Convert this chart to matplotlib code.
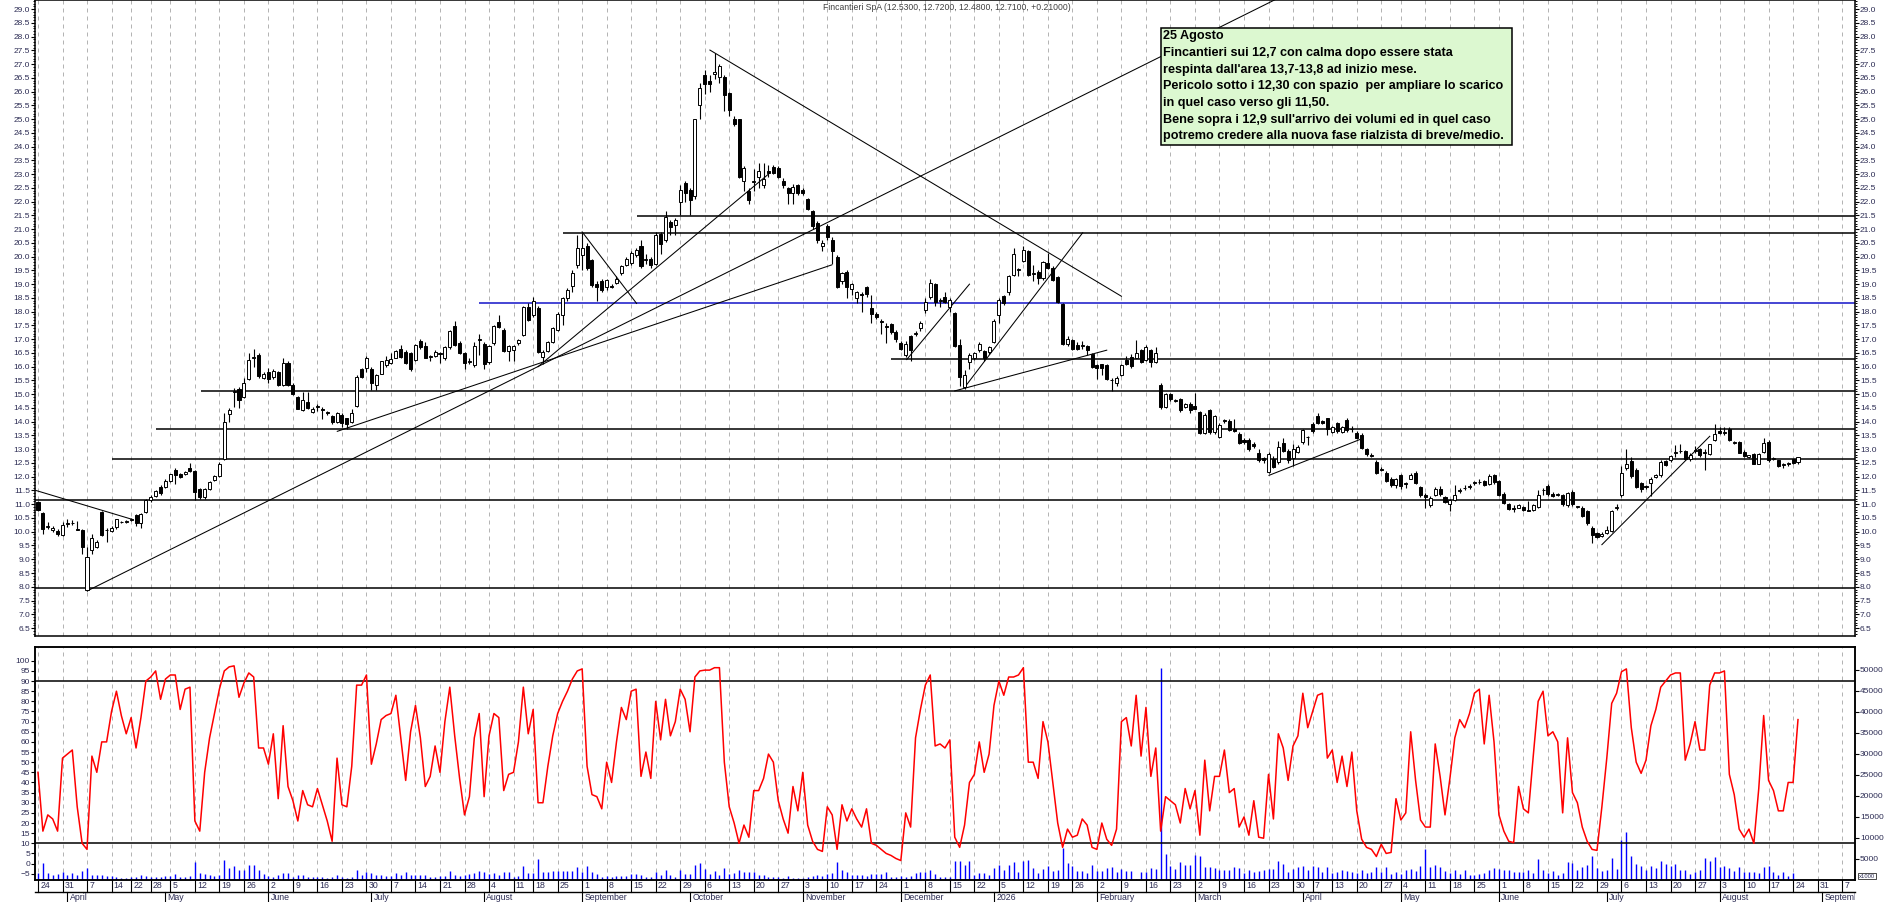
import matplotlib
matplotlib.use('Agg')
import matplotlib.pyplot as plt
from matplotlib.patches import Rectangle
from matplotlib.ticker import MultipleLocator, FixedLocator, FormatStrFormatter
import matplotlib.transforms as mtransforms
import numpy as np
import pandas as pd

plt.rcParams['font.family'] = ['Liberation Sans', 'DejaVu Sans']

W, H, DPI = 1890, 902, 100

# Borsa Italiana sessions
holidays = ['2025-04-18', '2025-04-21', '2025-05-01', '2025-08-15', '2025-12-24',
            '2025-12-25', '2025-12-26', '2025-12-31', '2026-01-01', '2026-04-03',
            '2026-04-06', '2026-05-01']
sessions = pd.bdate_range('2025-03-24', '2026-09-18')
sessions = sessions[~sessions.isin(pd.to_datetime(holidays))]

opens = [
    11.08, 10.68, 10.18, 10.06, 10.04, 9.87, 10.28, 10.31, 10.1, 10.05,
    7.9, 9.33, 9.45, 10.72, 10.05, 10.03, 10.18, 10.34, 10.36, 10.44,
    10.6, 10.32, 10.72, 11.15, 11.29, 11.63, 11.63, 11.85, 12.26, 12.09,
    12.1, 12.33, 12.2, 11.57, 11.27, 11.57, 11.87, 12.02, 12.66, 14.27,
    15.08, 15.2, 14.9, 15.57, 16.3, 16.42, 15.6, 15.81, 15.63, 15.81,
    15.35, 16.12, 15.35, 14.9, 14.42, 14.72, 14.37, 14.55, 14.45, 14.33,
    14.2, 13.99, 14.26, 14.12, 13.99, 14.58, 15.9, 15.97, 15.9, 15.35,
    15.75, 16.05, 16.14, 16.33, 16.65, 16.52, 16.5, 16.26, 16.94, 16.74,
    16.34, 16.39, 16.46, 16.3, 16.7, 17.47, 16.87, 16.5, 16.18, 16.06,
    16.98, 16.84, 16.17, 16.87, 17.63, 17.35, 16.58, 16.6, 16.87, 17.17,
    18.18, 17.87, 18.14, 16.36, 16.58, 16.9, 17.33, 17.87, 18.48, 18.93,
    19.69, 20.06, 20.4, 19.87, 19.0, 19.1, 18.88, 18.92, 19.05, 19.39,
    19.69, 19.78, 20.06, 20.38, 19.88, 19.93, 19.75, 20.84, 20.6, 21.27,
    21.15, 21.97, 22.68, 22.44, 22.2, 25.51, 26.6, 26.4, 26.64, 26.52,
    26.52, 25.96, 24.99, 24.99, 22.76, 22.39, 22.7, 22.88, 22.6, 23.12,
    23.27, 23.23, 22.75, 22.48, 22.32, 22.6, 22.44, 22.08, 21.67, 21.23,
    20.38, 21.11, 20.62, 20.0, 19.12, 19.45, 18.84, 18.48, 18.66, 18.88,
    18.12, 17.93, 17.65, 17.46, 17.54, 17.27, 16.87, 16.42, 17.11, 17.18,
    17.39, 18.05, 18.52, 19.0, 18.4, 18.54, 18.18, 17.96, 16.78, 15.27,
    16.18, 16.3, 16.6, 16.57, 16.54, 16.9, 17.87, 18.56, 18.7, 19.33,
    19.53, 19.85, 20.21, 19.38, 19.45, 19.21, 19.78, 19.59, 19.27, 18.27,
    16.82, 16.96, 16.78, 16.76, 16.75, 16.46, 16.05, 16.08, 16.06, 15.5,
    15.39, 15.7, 16.26, 16.36, 16.33, 16.6, 16.26, 16.6, 16.18, 15.33,
    14.54, 14.99, 14.76, 14.84, 14.54, 14.64, 14.56, 14.36, 13.6, 14.42,
    13.62, 13.45, 14.03, 14.03, 13.75, 13.57, 13.35, 13.35, 13.2, 12.87,
    12.68, 12.18, 12.66, 12.52, 13.23, 12.94, 12.68, 12.9, 13.27, 13.45,
    13.93, 14.2, 14.03, 14.12, 13.63, 13.96, 13.64, 14.08, 13.73, 13.6,
    13.53, 13.02, 12.78, 12.54, 12.28, 12.14, 11.93, 11.69, 12.05, 11.76,
    11.93, 12.12, 11.63, 11.33, 10.96, 11.33, 11.57, 11.27, 11.0, 11.17,
    11.48, 11.58, 11.64, 11.77, 11.8, 11.84, 11.75, 12.05, 11.84, 11.39,
    11.02, 10.86, 10.88, 10.9, 10.8, 10.78, 10.9, 11.5, 11.66, 11.39,
    11.34, 11.33, 10.96, 11.45, 10.9, 10.88, 10.76, 10.15, 9.96, 9.84,
    9.96, 10.03, 10.86, 11.33, 12.33, 12.56, 12.24, 11.78, 11.64, 11.78,
    12.0, 12.05, 12.56, 12.6, 12.88, 12.92, 12.92, 12.63, 12.93, 12.99,
    12.86, 12.82, 13.35, 13.67, 13.6, 13.72, 13.24, 13.27, 12.9, 12.72,
    12.82, 12.48, 12.9, 13.27, 12.66, 12.6, 12.42, 12.45, 12.63, 12.53,
]
highs = [
    11.12, 10.72, 10.35, 10.2, 10.1, 10.35, 10.48, 10.42, 10.39, 10.1,
    9.45, 9.93, 9.7, 10.75, 10.12, 10.2, 10.48, 10.4, 10.42, 10.5,
    10.65, 10.68, 11.2, 11.33, 11.52, 11.7, 11.9, 12.1, 12.3, 12.12,
    12.22, 12.5, 12.25, 11.6, 11.6, 11.85, 12.05, 12.55, 14.3, 14.5,
    15.24, 15.27, 15.6, 16.5, 16.66, 16.5, 15.8, 15.95, 15.9, 15.85,
    16.3, 16.2, 15.42, 14.95, 15.08, 15.08, 14.52, 14.64, 14.52, 14.38,
    14.25, 14.36, 14.3, 14.15, 14.48, 15.7, 15.95, 16.4, 16.0, 15.72,
    16.22, 16.4, 16.5, 16.6, 16.8, 16.6, 16.55, 16.82, 17.0, 16.9,
    16.42, 16.6, 16.55, 16.75, 17.35, 17.67, 16.95, 16.55, 16.3, 16.9,
    17.2, 16.9, 16.8, 17.5, 17.87, 17.4, 16.8, 16.8, 17.0, 18.2,
    18.3, 18.55, 18.2, 16.6, 16.95, 17.45, 17.98, 18.52, 18.85, 19.5,
    20.8, 20.85, 20.5, 19.9, 19.1, 19.2, 19.2, 19.0, 19.3, 19.7,
    20.0, 20.2, 20.3, 20.6, 20.1, 20.0, 20.9, 20.9, 21.65, 21.35,
    21.4, 22.6, 22.75, 22.5, 25.0, 26.3, 26.8, 26.6, 27.41, 27.0,
    26.6, 26.0, 25.1, 25.0, 23.3, 22.5, 23.2, 23.4, 23.4, 23.35,
    23.35, 23.3, 22.85, 22.55, 22.65, 22.65, 22.5, 22.12, 21.7, 21.3,
    20.6, 21.2, 20.7, 20.05, 19.45, 19.5, 19.05, 18.75, 18.72, 18.95,
    18.6, 18.0, 17.75, 17.6, 17.6, 17.35, 16.95, 16.95, 17.15, 17.3,
    17.65, 18.5, 19.2, 19.05, 18.5, 18.7, 18.5, 18.0, 17.0, 15.87,
    16.5, 16.55, 16.9, 16.6, 16.75, 17.72, 18.5, 18.6, 19.35, 20.3,
    19.6, 20.4, 20.25, 19.7, 19.5, 19.85, 20.14, 19.65, 19.3, 18.3,
    17.1, 17.0, 16.9, 16.95, 16.8, 16.5, 16.1, 16.1, 16.1, 15.6,
    15.65, 16.1, 16.4, 16.45, 16.96, 16.65, 16.78, 16.65, 16.72, 15.4,
    15.05, 15.03, 14.82, 14.88, 14.68, 14.7, 15.05, 14.4, 14.3, 14.45,
    14.25, 13.95, 14.1, 14.1, 14.1, 13.62, 13.4, 13.4, 13.25, 13.0,
    12.72, 12.9, 12.75, 13.3, 13.4, 13.0, 13.2, 13.15, 13.72, 13.48,
    14.0, 14.3, 14.08, 14.15, 13.85, 14.0, 13.85, 14.12, 13.85, 13.68,
    13.6, 13.05, 12.85, 12.6, 12.35, 12.2, 12.0, 11.95, 12.1, 11.8,
    12.15, 12.2, 11.68, 11.4, 11.3, 11.62, 11.65, 11.3, 11.2, 11.7,
    11.6, 11.7, 11.72, 11.85, 11.9, 11.88, 12.1, 12.1, 11.88, 11.45,
    11.05, 10.97, 11.0, 10.95, 11.1, 11.0, 11.5, 11.6, 11.72, 11.45,
    11.4, 11.38, 11.45, 11.5, 10.95, 10.92, 10.8, 10.2, 10.0, 9.98,
    10.2, 10.8, 11.0, 12.4, 13.02, 12.7, 12.3, 11.82, 11.7, 12.0,
    12.1, 12.6, 12.62, 12.8, 13.15, 13.2, 12.98, 12.85, 13.1, 13.05,
    13.0, 13.2, 13.9, 13.8, 13.8, 13.8, 13.3, 13.3, 12.98, 12.8,
    12.86, 12.86, 13.4, 13.35, 12.72, 12.62, 12.5, 12.52, 12.66, 12.72,
]
lows = [
    10.75, 9.93, 10.11, 10.0, 9.85, 9.85, 10.17, 10.23, 10.05, 9.2,
    7.85, 9.2, 9.4, 9.85, 9.63, 9.98, 10.1, 10.3, 10.3, 10.4,
    10.2, 10.15, 10.68, 11.08, 11.25, 11.35, 11.6, 11.8, 11.75, 11.95,
    12.05, 12.18, 11.15, 11.2, 11.2, 11.52, 11.83, 12.0, 12.6, 13.99,
    14.54, 14.5, 14.85, 15.5, 16.0, 15.6, 15.55, 15.4, 15.55, 15.3,
    15.3, 15.3, 14.98, 14.45, 14.38, 14.48, 14.3, 14.4, 14.1, 14.25,
    13.9, 13.95, 13.8, 13.75, 13.95, 14.55, 15.6, 15.8, 15.15, 15.15,
    15.72, 16.0, 16.1, 16.3, 16.33, 16.1, 15.85, 16.2, 16.65, 16.3,
    16.2, 16.35, 16.15, 16.25, 16.65, 16.75, 16.45, 15.9, 16.08, 16.0,
    16.42, 15.9, 16.1, 16.8, 17.4, 16.55, 16.2, 16.2, 16.8, 17.1,
    17.65, 17.8, 16.5, 16.1, 16.52, 16.85, 17.28, 17.5, 18.4, 18.7,
    19.6, 19.5, 19.5, 18.9, 18.4, 18.7, 18.8, 18.85, 19.0, 19.35,
    19.65, 19.7, 20.0, 19.6, 19.75, 19.6, 19.7, 20.1, 20.55, 20.8,
    20.8, 21.5, 22.0, 21.5, 22.1, 25.0, 25.9, 26.0, 26.45, 26.3,
    25.3, 25.1, 24.75, 22.85, 22.4, 21.9, 22.4, 22.5, 22.5, 22.9,
    23.0, 22.85, 22.5, 21.9, 21.9, 22.25, 22.25, 21.7, 21.0, 20.5,
    20.2, 20.6, 19.75, 18.85, 19.0, 18.5, 18.6, 18.3, 18.0, 18.55,
    17.6, 17.75, 17.2, 16.85, 17.2, 16.9, 16.6, 16.35, 16.2, 17.1,
    17.3, 17.95, 18.45, 18.2, 18.17, 18.3, 18.0, 16.7, 15.3, 15.2,
    15.9, 16.25, 16.55, 16.2, 16.45, 16.85, 17.6, 18.25, 18.6, 19.3,
    19.3, 19.8, 19.3, 19.1, 19.0, 19.15, 19.55, 19.1, 18.3, 16.8,
    16.75, 16.6, 16.6, 16.65, 16.42, 15.95, 15.55, 15.7, 15.5, 15.11,
    15.3, 15.65, 16.05, 15.95, 16.3, 16.12, 16.2, 16.0, 16.12, 14.45,
    14.5, 14.75, 14.7, 14.35, 14.5, 14.32, 14.45, 13.55, 13.55, 13.55,
    13.55, 13.4, 13.95, 13.65, 13.62, 13.2, 13.2, 12.95, 13.05, 12.55,
    12.5, 12.12, 12.3, 12.48, 12.9, 12.5, 12.4, 12.85, 13.2, 13.15,
    13.6, 13.9, 13.9, 13.5, 13.58, 13.6, 13.6, 13.62, 13.62, 13.38,
    13.0, 12.75, 12.7, 12.1, 12.2, 11.8, 11.62, 11.6, 11.55, 11.6,
    11.9, 11.75, 11.25, 10.85, 10.9, 11.3, 11.3, 11.05, 10.75, 11.1,
    11.4, 11.5, 11.55, 11.7, 11.72, 11.65, 11.7, 11.75, 11.3, 11.0,
    10.8, 10.7, 10.85, 10.75, 10.74, 10.75, 10.85, 11.35, 11.3, 11.25,
    11.3, 10.95, 10.9, 10.95, 10.85, 10.52, 10.25, 9.6, 9.78, 9.8,
    9.92, 10.0, 10.8, 11.28, 12.25, 11.95, 11.6, 11.45, 11.55, 11.3,
    11.95, 12.0, 12.4, 12.55, 12.7, 12.85, 12.6, 12.58, 12.85, 12.7,
    12.26, 12.78, 13.3, 13.55, 13.52, 13.3, 13.2, 12.85, 12.7, 12.68,
    12.45, 12.45, 12.85, 12.55, 12.6, 12.35, 12.3, 12.4, 12.45, 12.48,
]
closes = [
    10.78, 10.11, 10.22, 10.15, 9.91, 10.26, 10.32, 10.33, 10.08, 9.45,
    9.08, 9.79, 9.62, 9.87, 10.06, 10.15, 10.45, 10.36, 10.37, 10.46,
    10.32, 10.66, 11.14, 11.27, 11.48, 11.41, 11.85, 12.09, 12.05, 12.0,
    12.18, 12.21, 11.45, 11.27, 11.57, 11.81, 12.02, 12.48, 13.99, 14.44,
    15.12, 14.8, 15.41, 16.26, 16.34, 15.67, 15.72, 15.57, 15.85, 15.33,
    16.12, 15.33, 15.02, 14.48, 14.78, 14.51, 14.48, 14.57, 14.44, 14.32,
    13.99, 14.33, 13.96, 13.93, 14.33, 15.63, 15.63, 16.33, 15.39, 15.69,
    16.19, 16.24, 16.28, 16.57, 16.36, 16.14, 15.9, 16.78, 16.7, 16.33,
    16.38, 16.54, 16.5, 16.7, 17.3, 16.78, 16.5, 16.15, 16.22, 16.77,
    17.02, 16.08, 16.75, 17.47, 17.45, 16.58, 16.76, 16.74, 16.96, 18.18,
    17.69, 18.38, 16.54, 16.54, 16.9, 17.39, 17.93, 18.48, 18.78, 19.41,
    20.33, 20.33, 19.57, 18.96, 18.9, 18.8, 19.15, 18.9, 19.2, 19.65,
    19.93, 20.14, 20.26, 19.65, 19.9, 19.69, 20.78, 20.45, 21.45, 21.06,
    21.33, 22.42, 22.32, 22.06, 24.99, 26.12, 26.26, 26.26, 26.72, 26.93,
    25.87, 25.33, 24.81, 22.9, 23.24, 22.06, 22.74, 23.12, 22.84, 23.05,
    23.05, 22.9, 22.6, 22.3, 22.54, 22.3, 22.3, 21.72, 21.11, 20.62,
    20.5, 20.7, 20.21, 18.9, 19.41, 18.88, 19.0, 18.72, 18.6, 18.64,
    17.93, 17.81, 17.63, 17.45, 17.27, 16.99, 16.66, 16.84, 16.6, 17.22,
    17.6, 18.36, 19.05, 18.36, 18.42, 18.36, 18.44, 16.75, 15.63, 15.69,
    16.42, 16.48, 16.84, 16.3, 16.7, 17.67, 18.44, 18.3, 19.3, 20.09,
    19.55, 20.24, 19.33, 19.42, 19.21, 19.81, 19.57, 19.15, 18.36, 16.84,
    17.02, 16.64, 16.64, 16.8, 16.6, 15.99, 15.97, 15.97, 15.55, 15.53,
    15.6, 16.07, 16.11, 16.02, 16.48, 16.18, 16.72, 16.18, 16.48, 14.52,
    15.0, 14.81, 14.78, 14.42, 14.64, 14.44, 14.48, 13.6, 14.25, 13.62,
    14.2, 13.87, 14.05, 13.69, 13.67, 13.23, 13.27, 13.02, 13.1, 12.62,
    12.62, 12.81, 12.36, 13.08, 12.94, 12.62, 12.99, 13.08, 13.69, 13.43,
    13.67, 13.96, 13.96, 13.75, 13.81, 13.67, 13.79, 13.69, 13.72, 13.42,
    13.05, 12.84, 12.76, 12.14, 12.26, 11.85, 11.69, 11.9, 11.65, 11.74,
    12.05, 11.78, 11.33, 11.27, 11.24, 11.57, 11.39, 11.08, 11.15, 11.35,
    11.5, 11.6, 11.66, 11.78, 11.82, 11.69, 12.02, 11.81, 11.33, 11.05,
    10.84, 10.84, 10.96, 10.8, 10.76, 10.96, 11.33, 11.52, 11.36, 11.3,
    11.36, 11.02, 11.41, 11.02, 10.9, 10.56, 10.3, 9.87, 9.81, 9.93,
    10.08, 10.76, 10.88, 12.12, 12.48, 12.02, 11.63, 11.54, 11.62, 11.93,
    12.05, 12.54, 12.44, 12.76, 12.91, 12.95, 12.66, 12.78, 12.95, 12.78,
    12.88, 13.18, 13.57, 13.6, 13.62, 13.33, 13.25, 12.87, 12.75, 12.78,
    12.48, 12.82, 13.21, 12.6, 12.68, 12.38, 12.42, 12.5, 12.5, 12.71,
]
stoch = [
    45, 16, 24, 22, 16, 52, 54, 56, 28, 10,
    7, 53, 45, 60, 60, 75, 85, 73, 64, 72,
    57, 72, 90, 92, 95, 81, 91, 93, 93, 76,
    86, 87, 21, 16, 45, 62, 74, 86, 95, 97,
    97.5, 82, 89, 94, 92, 57, 57, 49, 64, 32,
    68, 38, 31, 21, 36, 29, 28, 37, 29, 21,
    11, 52, 29, 28, 48, 88, 88, 93, 49, 59,
    71, 73, 74, 83, 62, 41, 65, 78, 62, 38,
    43, 58, 45, 70, 87, 63, 42, 24, 33, 62,
    74, 33, 63, 74, 72, 36, 44, 45, 60, 87,
    64, 76, 30, 30, 48, 63, 74, 80, 85, 91,
    95, 96, 48, 34, 33, 27, 50, 40, 60, 77,
    71, 85, 86, 43, 55, 42, 80, 61, 81, 63,
    70, 86, 81, 65, 92, 95, 95.4, 95.4, 96.6, 96.6,
    50, 28, 20, 10, 19, 13, 36, 36, 42, 54,
    50, 31, 22, 15, 38, 26, 45, 19, 11, 7,
    6, 28, 24, 7, 29, 21, 27, 22, 18, 27,
    10, 9, 7, 5, 4, 2.5, 1.5, 25, 18, 62,
    76, 88, 93, 58, 59, 57, 61, 13, 8, 19,
    40, 44, 60, 45, 54, 78, 90, 83, 92, 92,
    93, 96.6, 50, 50, 42, 70, 60, 40, 20, 8,
    17, 13, 14, 22, 19, 8, 7, 20, 12, 9,
    17, 70, 72, 58, 83, 53, 77, 43, 57, 16,
    33, 31, 29, 20, 37, 27, 36, 14, 51, 26,
    43, 43, 56, 35, 37, 18, 23, 14, 31, 13,
    12.5, 44, 22, 64, 57, 41, 58, 63, 84, 67,
    75, 83, 84, 52, 56, 40, 53, 38, 55, 26,
    12, 8, 7, 3.5, 9.5, 5, 5.5, 32, 21.5, 25,
    65, 41, 21.5, 18, 18, 59, 43, 24, 42, 62,
    71, 67, 74, 84, 86, 59, 83, 60, 24, 16,
    11, 10.3, 38, 27, 25, 53, 80, 85, 63, 65,
    60, 25, 62, 35, 30, 18, 11, 7, 6.5, 28,
    52, 79, 84, 94.6, 96, 67, 50, 44.5, 51, 68,
    76, 87, 90, 93, 94, 94, 51, 59, 70, 56,
    56, 88, 94, 94, 95, 44, 34, 17, 13, 17,
    10, 37, 73, 41, 36, 26, 26, 40, 40, 71,
]
volume = [
    1750, 3970, 1750, 1190, 1430, 1985, 1190, 1750, 1190, 2220,
    2780, 1190, 1190, 1190, 950, 950, 790, 560, 400, 635,
    790, 1190, 950, 635, 635, 790, 950, 1030, 1430, 790,
    790, 1030, 4370, 1750, 1430, 1190, 950, 1190, 4760, 2940,
    3410, 2380, 2380, 3570, 3570, 2380, 1430, 950, 635, 1190,
    1750, 1750, 635, 1190, 1190, 635, 635, 635, 635, 400,
    635, 1190, 635, 400, 635, 2380, 1190, 1830, 1750, 1190,
    1190, 1030, 1030, 1590, 1190, 1830, 1190, 1190, 1190, 1190,
    635, 790, 1030, 1030, 2140, 1190, 1030, 1190, 1350, 1590,
    2140, 1830, 1350, 1590, 1190, 1985, 1985, 790, 1030, 3410,
    1590, 1590, 5000, 1830, 1830, 2140, 2140, 2140, 2140, 2140,
    3180, 1985, 3410, 1830, 1350, 790, 1030, 790, 1030, 1030,
    1030, 1350, 1350, 1190, 790, 790, 1830, 1190, 2380, 1190,
    790, 2380, 1350, 1350, 3570, 3970, 2620, 1350, 2140, 1190,
    2780, 1350, 1590, 2300, 1985, 1830, 1985, 1190, 1190, 790,
    790, 790, 400, 1030, 555, 555, 555, 790, 1030, 1190,
    950, 1510, 1750, 4210, 2300, 1830, 1190, 1190, 1190, 1030,
    1510, 1350, 1350, 1830, 790, 790, 1030, 790, 1030, 1590,
    1985, 1985, 2300, 1350, 790, 790, 790, 4530, 4530, 3570,
    4530, 1190, 1590, 1590, 1190, 2780, 3570, 2380, 3570, 4210,
    1830, 4530, 4760, 2780, 1590, 2620, 3410, 2140, 2380, 7700,
    3970, 3410, 2140, 2140, 1590, 3570, 2140, 2140, 2940, 3180,
    1830, 2620, 2140, 2140, 150, 1830, 1830, 2940, 2620, 50580,
    6110, 3410, 2620, 4210, 3570, 3570, 5960, 5720, 3020, 3020,
    2940, 2300, 2300, 2300, 3020, 2940, 1590, 2300, 1830, 2220,
    2300, 2620, 2620, 4530, 3730, 1830, 2620, 3180, 3410, 2300,
    3330, 3180, 1830, 3180, 1590, 1985, 2300, 2140, 1985, 1590,
    2300, 1590, 1985, 3020, 1830, 3020, 1430, 1830, 1430, 2300,
    2620, 2140, 3410, 7380, 3020, 3570, 3020, 2140, 1590, 2300,
    1430, 2300, 1190, 1190, 1350, 1590, 2300, 2940, 2620, 2380,
    2380, 1985, 1985, 1985, 2380, 1750, 5000, 2380, 1750, 2140,
    1190, 1750, 4290, 4130, 2380, 3180, 3570, 5720, 2780, 2140,
    2380, 5160, 2620, 9530, 11430, 5720, 3730, 3330, 2380, 3330,
    2780, 4530, 3730, 3330, 3730, 2380, 2380, 1430, 1985, 2380,
    5160, 4530, 5400, 3180, 3330, 2940, 2140, 3180, 1985, 1985,
    1985, 1590, 3180, 3330, 1830, 1190, 1985, 950, 1750, 240,
]

# support / resistance levels: price, first session index, colour
level_price = [21.47, 20.85, 18.30, 16.27, 15.10, 13.74, 12.64, 11.17, 7.97]
level_start = [122.2, 107.1, 89.9, 174.0, 33.2, 24.1, 15.1, -0.6, -0.6]
level_color = ['black', 'black', '#1414c8', 'black', 'black', 'black', 'black', 'black', 'black']

# trend lines (session index, price)
trend_x0 = [-0.6, 10.05, 61.05, 102.0, 111.0, 137.06, 177.2, 189.1, 187.0, 251.1, 319.0]
trend_y0 = [11.51, 7.85, 13.65, 16.0, 20.9, 27.51, 16.26, 15.27, 15.12, 12.05, 9.53]
trend_x1 = [19.4, 253.0, 161.9, 149.0, 122.1, 221.0, 190.0, 213.1, 218.0, 269.6, 341.0]
trend_y1 = [10.44, 29.4, 19.7, 23.0, 18.3, 18.56, 19.0, 20.87, 16.6, 13.35, 13.47]

stoch_levels = [90, 10]

title = 'Fincantieri SpA (12.5300, 12.7200, 12.4800, 12.7100, +0.21000)'
note_lines = [
    '25 Agosto',
    'Fincantieri sui 12,7 con calma dopo essere stata',
    "respinta dall'area 13,7-13,8 ad inizio mese.",
    'Pericolo sotto i 12,30 con spazio  per ampliare lo scarico',
    'in quel caso verso gli 11,50.',
    "Bene sopra i 12,9 sull'arrivo dei volumi ed in quel caso",
    'potremo credere alla nuova fase rialzista di breve/medio.',
]
month_names = ['January', 'February', 'March', 'April', 'May', 'June', 'July',
               'August', 'September', 'October', 'November', 'December']

n = len(closes)
x = np.arange(n)
XMIN, XMAX = -0.61, 370.63
label_col = '#2c2c54'

fig = plt.figure(figsize=(W / DPI, H / DPI), dpi=DPI)


def px_axes(left, top, right, bottom):
    return fig.add_axes([left / W, 1 - bottom / H, (right - left) / W, (bottom - top) / H])


ax = px_axes(35, 0, 1855, 636)
axv = px_axes(35, 647, 1855, 880)
axs = axv.twinx()

# week and month starts
sess = sessions[sessions <= sessions[0] + pd.Timedelta(days=540)]
weeks = pd.Series(np.arange(len(sess)), index=sess).groupby(sess.to_period('W')).first()
week_idx = [i for i in weeks.values if i <= XMAX and sess[i] != pd.Timestamp('2025-12-29')]
months = pd.Series(np.arange(len(sess)), index=sess).groupby(sess.to_period('M')).first()
month_idx = [i for i in months.values if 0 < i <= XMAX]

for a in (ax, axv):
    for w in week_idx:
        a.axvline(w, color='#b4b4b4', lw=0.72, ls=(0, (4, 4)), zorder=0.5)

# candles
o = np.array(opens)
c = np.array(closes)
up = c >= o
bot = np.minimum(o, c)
hgt = np.maximum(np.abs(c - o), 0.025)
ax.vlines(x, lows, highs, color='black', lw=0.8, zorder=3)
ax.bar(x[up], hgt[up], bottom=bot[up], width=0.62, facecolor='white',
       edgecolor='black', lw=0.7, zorder=4)
ax.bar(x[~up], hgt[~up], bottom=bot[~up], width=0.62, facecolor='black',
       edgecolor='black', lw=0.7, zorder=4)

for p, s, col in zip(level_price, level_start, level_color):
    ax.hlines(p, s, XMAX, color=col, lw=1.1, zorder=2)
for x0, y0, x1, y1 in zip(trend_x0, trend_y0, trend_x1, trend_y1):
    ax.plot([x0, x1], [y0, y1], color='black', lw=0.75, zorder=2)

ax.set_xlim(XMIN, XMAX)
ax.set_ylim(6.21, 29.33)
ax.set_xticks([])
ax.yaxis.set_major_locator(MultipleLocator(0.5))
ax.yaxis.set_minor_locator(MultipleLocator(0.1))
ax.yaxis.set_major_formatter(FormatStrFormatter('%.1f'))
ax.tick_params(axis='y', which='both', left=True, right=True, labelleft=True,
               labelright=True, direction='out', labelsize=6, labelcolor=label_col, pad=1)
ax.tick_params(axis='y', which='major', length=2.6, width=0.8)
ax.tick_params(axis='y', which='minor', length=1.6, width=0.7)

# volume (right axis) and stochastic (left axis)
axv.vlines(x, 0, volume, color='blue', lw=1.0, zorder=2)
axv.set_xlim(XMIN, XMAX)
axv.set_ylim(0, 55475)
axv.set_xticks([])
axv.yaxis.tick_right()
axv.yaxis.set_major_locator(FixedLocator(range(5000, 50001, 5000)))
axv.yaxis.set_major_formatter(FormatStrFormatter('%d'))
axv.tick_params(axis='y', direction='out', labelsize=6, labelcolor=label_col, length=2.6, width=0.8, pad=1)

axs.plot(x, stoch, color='red', lw=1.1, zorder=3)
for lv in stoch_levels:
    axs.axhline(lv, color='black', lw=1.1, zorder=2)
axs.set_ylim(-8.1, 106.8)
axs.set_xlim(XMIN, XMAX)
axs.yaxis.tick_left()
axs.yaxis.set_major_locator(FixedLocator(range(-5, 101, 5)))
axs.tick_params(axis='y', direction='out', labelsize=6, labelcolor=label_col, length=2.6, width=0.8, pad=1)

for a in (ax, axv, axs):
    for sp in a.spines.values():
        sp.set_linewidth(1.1)

# two-row date axis; labels past the right edge are cut like in the original
tr = axv.get_xaxis_transform()
r1 = -12 / 233
r2 = -22 / 233
clip_box = mtransforms.TransformedBbox(mtransforms.Bbox([[0, 0], [1855 / W, 1]]), fig.transFigure)
axv.plot([XMIN, XMAX], [r1, r1], transform=tr, color='black', lw=1.0, clip_on=False)
for w in week_idx:
    axv.plot([w, w], [0, r1], transform=tr, color='black', lw=0.8, clip_on=False)
    t = axv.text(w + 0.45, r1 / 2, str(sess[w].day), transform=tr, ha='left', va='center',
                 fontsize=6.3, color=label_col)
    t.set_clip_on(True)
    t.set_clip_box(clip_box)
for m in month_idx:
    axv.plot([m, m], [r1, r2], transform=tr, color='black', lw=0.8, clip_on=False)
    d = sess[m]
    name = str(d.year) if d.month == 1 else month_names[d.month - 1]
    t = axv.text(m + 0.45, (r1 + r2) / 2, name, transform=tr, ha='left', va='center',
                 fontsize=6.3, color=label_col)
    t.set_clip_on(True)
    t.set_clip_box(clip_box)

fig.text(1867 / W, 1 - 876 / H, 'x1000', fontsize=4.2, ha='center', va='center', color=label_col,
         bbox=dict(boxstyle='square,pad=0.1', fc='white', ec='black', lw=0.5))

fig.text(947 / W, 1 - 8 / H, title, ha='center', va='center', fontsize=6.2, color='#404040')

# comment box
box = Rectangle((1161 / W, 1 - 145 / H), (1512 - 1161) / W, (145 - 28) / H,
                transform=fig.transFigure, facecolor='#dcf8d0', edgecolor='black', lw=1.1, zorder=5)
fig.add_artist(box)
for k, line in enumerate(note_lines):
    fig.text(1163.5 / W, 1 - (36.5 + 16.6 * k) / H, line, ha='left', va='center',
             fontsize=9.1, fontweight='bold', color='black', zorder=6)

fig.savefig('out.png', dpi=DPI)
